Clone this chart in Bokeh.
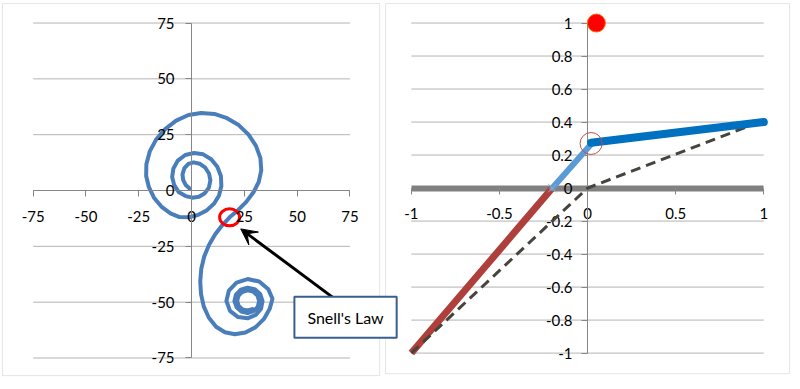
from bokeh.plotting import figure
from bokeh.models import (Range1d, LinearAxis, FixedTicker, BoxAnnotation,
                          Label, Arrow, VeeHead)
from bokeh.embed import file_html
from bokeh.resources import INLINE

# ---------------- data: left panel (double spiral) ----------------
left_ticks = [-75, -50, -25, 0, 25, 50, 75]
left_tick_labels = ["-75", "-50", "-25", "0", "25", "50", "75"]

spiral_x = [-0.8, -2.8, -4.0, -4.3, -3.4, -1.5, 1.0, 3.8, 6.5, 8.3, 8.9, 8.2, 6.3,
            3.5, 0.3, -2.8,
            -6.0, -8.2, -9.2, -8.6, -6.5, -3.0, 1.2, 5.5, 9.3, 12.2, 13.9, 14.1,
            13.0, 10.7, 7.3, 3.2, -1.2, -5.7,
            -10.0, -14.3, -17.8, -20.2, -21.5, -21.4, -19.8, -16.8, -12.5, -7.3,
            -1.5, 4.5, 10.8, 16.8, 22.3, 27.0, 30.5, 32.6, 33.0, 31.8, 29.3, 25.8,
            22.0, 18.0,
            14.5, 11.2, 8.3, 6.0, 4.6, 4.1, 4.5, 5.8, 8.2, 11.6, 15.8, 20.5, 25.5,
            30.2, 34.2, 37.0, 38.3,
            36.37, 32.0, 26.5, 21.3, 17.67, 16.5, 18.19, 22.0, 26.5, 30.4, 32.91, 33.6,
            32.48, 29.85, 26.5, 23.3, 21.04, 20.3, 21.3, 23.55, 26.5, 29.35, 31.35, 32.0,
            31.18, 29.15, 26.5, 23.95, 22.17, 21.6, 22.34, 24.15, 26.5, 28.75]
spiral_y = [0.8, 2.5, 4.8, 7.2, 10.0, 11.9, 12.6, 12.0, 10.2, 7.5, 4.5, 1.3, -1.2,
            -2.8, -3.2, -2.5,
            -0.8, 2.4, 6.0, 9.9, 13.4, 15.9, 16.8, 16.2, 14.0, 10.6, 6.5, 2.0,
            -2.2, -5.8, -8.8, -10.9, -12.0, -11.9,
            -10.2, -7.2, -3.2, 1.5, 6.5, 11.8, 17.5, 22.8, 27.5, 31.3,
            33.8, 34.7, 34.3, 32.4, 29.3, 25.0, 20.0, 14.5, 9.0, 3.8, -0.8, -5.2,
            -8.8, -12.0,
            -15.6, -19.6, -24.3, -29.5, -35.0, -40.8, -46.5, -52.0, -57.0, -61.0,
            -63.5, -64.4, -63.6, -61.3, -57.6, -53.0, -48.5,
            -44.26, -40.74, -39.66, -41.21, -44.81, -49.5, -53.92, -56.67, -57.23,
            -55.71, -52.9, -49.5,
            -46.33, -44.16, -43.52, -44.4, -46.6, -49.5, -52.26, -54.2, -54.84,
            -54.04, -52.08, -49.5,
            -47.02, -45.28, -44.72, -45.43, -47.2, -49.5, -51.71, -53.24, -53.73,
            -53.09]

snell_x = [18.0]
snell_y = [-12.0]
arrow_from = [68.6, -49.1]
arrow_to = [23.3, -17.2]
note_text = "Snell's Law"
note_pos = [72.9, -56.8]

# ---------------- data: right panel (ray diagram) ----------------
right_x_ticks = [-1, -0.5, 0, 0.5, 1]
right_x_labels = ["-1", "-0.5", "0", "0.5", "1"]
right_y_ticks = [-1, -0.8, -0.6, -0.4, -0.2, 0, 0.2, 0.4, 0.6, 0.8, 1]
right_y_labels = ["-1", "-0.8", "-0.6", "-0.4", "-0.2", "0", "0.2", "0.4",
                  "0.6", "0.8", "1"]

incident_x = [-1.0, -0.2]
incident_y = [-1.0, 0.0]
bent_x = [-0.2, 0.02]
bent_y = [0.0, 0.265]
exit_x = [0.02, 1.0]
exit_y = [0.275, 0.4]
straight_x = [-1.0, 0.0, 1.0]
straight_y = [-1.0, 0.0, 0.41]
source_x = [0.05]
source_y = [1.0]
ring_x = [0.02]
ring_y = [0.27]
cross_x = [-0.2]
cross_y = [0.0]

# ---------------- layout (pixels on the canvas) ----------------
W, H = 792, 381
SX, SY = W / 800, H / 389


def lin(px, p0, v0, p1, v1):
    return v0 + (px - p0) * (v1 - v0) / (p1 - p0)


# pixel anchors, scaled to the canvas
LX = (33 * SX, -75, 353 * SX, 75)
LY = (23 * SY, 75, 365 * SY, -75)
RX = (415 * SX, -1, 771 * SX, 1)
RY = (23 * SY, 1, 360 * SY, -1)

p = figure(width=W, height=H,
           x_range=Range1d(lin(0, *LX), lin(W, *LX)),
           y_range=Range1d(lin(H, *LY), lin(0, *LY)),
           x_axis_type=None, y_axis_type=None,
           toolbar_location=None, output_backend="svg",
           min_border=0, outline_line_color=None,
           background_fill_color="white", border_fill_color="white")
p.extra_x_ranges = {"r": Range1d(lin(0, *RX), lin(W, *RX))}
p.extra_y_ranges = {"r": Range1d(lin(H, *RY), lin(0, *RY))}

GRID = "#b4b4b4"
AXIS = "#868686"
FONT = "Lato"

# gridlines
p.segment(x0=[left_ticks[0]] * len(left_ticks), x1=[left_ticks[-1]] * len(left_ticks),
          y0=left_ticks, y1=left_ticks, line_color=GRID, line_width=1,
          level="underlay")
p.segment(x0=[right_x_ticks[0]] * len(right_y_ticks),
          x1=[right_x_ticks[-1]] * len(right_y_ticks),
          y0=right_y_ticks, y1=right_y_ticks, line_color=GRID, line_width=1,
          x_range_name="r", y_range_name="r", level="underlay")


def make_axis(ticks, labels, **kw):
    return LinearAxis(ticker=FixedTicker(ticks=ticks, minor_ticks=[]),
                      major_label_overrides=dict(zip(ticks, labels)),
                      fixed_location=0, bounds=(ticks[0], ticks[-1]),
                      major_tick_line_color=AXIS, major_tick_in=0,
                      major_tick_out=6, minor_tick_line_color=None,
                      major_label_text_font=FONT,
                      major_label_text_font_size="15px",
                      major_label_text_color="black", **kw)


# right panel axes (under the rays)
p.add_layout(make_axis(right_x_ticks, right_x_labels, major_label_standoff=14,
                       axis_line_color="#808080", axis_line_width=6,
                       x_range_name="r", y_range_name="r", level="underlay"),
             "below")
p.add_layout(make_axis(right_y_ticks, right_y_labels, major_label_standoff=9,
                       axis_line_color=AXIS, x_range_name="r", y_range_name="r",
                       level="underlay"),
             "left")

# left panel curve
p.line(spiral_x, spiral_y, line_color="#4a7ebb", line_width=4,
       line_join="round", line_cap="round")
p.ellipse(snell_x, snell_y, width=20, height=17, width_units="screen",
          height_units="screen", fill_color=None, line_color="#ff0000",
          line_width=3)

# left panel axes (labels above the curve)
p.add_layout(make_axis(left_ticks, left_tick_labels, major_label_standoff=14,
                       axis_line_color=AXIS), "below")
p.add_layout(make_axis(left_ticks, left_tick_labels, major_label_standoff=11,
                       axis_line_color=AXIS), "left")

# right panel rays
p.line(incident_x, incident_y, line_color="#ae3f3b", line_width=7,
       x_range_name="r", y_range_name="r")
p.line(straight_x, straight_y, line_color="#45453d", line_width=3,
       line_dash="10 6", x_range_name="r", y_range_name="r")
p.line(bent_x, bent_y, line_color="#5b9bd5", line_width=6, line_cap="round",
       x_range_name="r", y_range_name="r")
p.line(exit_x, exit_y, line_color="#0070c0", line_width=8, line_cap="round",
       x_range_name="r", y_range_name="r")
p.scatter(cross_x, cross_y, marker="x", size=12, line_color="#a6a6a6",
          line_width=1, x_range_name="r", y_range_name="r")
p.scatter(ring_x, ring_y, marker="circle", size=22, fill_color=None,
          line_color="#c0504d", line_width=1, x_range_name="r", y_range_name="r")
p.scatter(source_x, source_y, marker="circle", size=18, fill_color="#ff0000",
          line_color="#ff6a00", line_width=1, x_range_name="r", y_range_name="r")

# panel borders
BORDER = "#a6a6a6"
p.add_layout(BoxAnnotation(left=lin(2 * SX, *LX), right=lin(383 * SX, *LX),
                           top=lin(3 * SY, *LY), bottom=lin(383 * SY, *LY),
                           fill_color=None, line_color=BORDER, line_width=1))
p.add_layout(BoxAnnotation(left=lin(389 * SX, *RX), right=lin(797 * SX, *RX),
                           top=lin(3 * SY, *RY), bottom=lin(381 * SY, *RY),
                           fill_color=None, line_color=BORDER, line_width=1,
                           x_range_name="r", y_range_name="r"))

# annotation arrow and text box
p.add_layout(Arrow(end=VeeHead(size=16, fill_color="black", line_color="black"),
                   x_start=arrow_from[0], y_start=arrow_from[1],
                   x_end=arrow_to[0], y_end=arrow_to[1],
                   line_color="black", line_width=3))
p.add_layout(Label(x=note_pos[0], y=note_pos[1], text=note_text,
                   text_align="center", text_baseline="middle",
                   text_font=FONT, text_font_size="16px", text_color="black",
                   background_fill_color="white", border_line_color="#3a5f8f",
                   border_line_width=2, padding=(13, 11)))

open("out.html", "w").write(file_html(p, INLINE))
